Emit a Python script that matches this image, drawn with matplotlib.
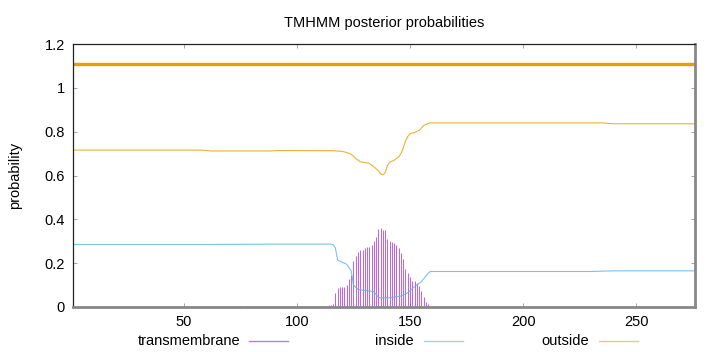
import matplotlib
matplotlib.use("Agg")
import matplotlib.pyplot as plt
from matplotlib.lines import Line2D

plt.rcParams['font.family'] = ['Liberation Sans', 'DejaVu Sans']

# transmembrane posterior (impulses)
tm_pos = [58, 61, 64, 66, 69, 72, 75, 78, 81, 84,
          114, 115, 116, 117, 118, 119, 120, 121, 122, 123, 124, 125, 126, 127,
          128, 129, 130, 131, 132, 133, 134, 135, 136, 137, 138, 139, 140, 141,
          142, 143, 144, 145, 146, 147, 148, 149, 150, 151, 152, 153, 154, 155,
          156, 157, 158,
          236, 239, 242, 245, 248, 251, 254, 257, 260]
tm_val = [0.003, 0.004, 0.004, 0.005, 0.005, 0.005, 0.005, 0.004, 0.004, 0.003,
          0.008, 0.010, 0.012, 0.064, 0.088, 0.090, 0.090, 0.091, 0.100, 0.130,
          0.146, 0.210, 0.233, 0.250, 0.259, 0.260, 0.268, 0.272, 0.275, 0.284,
          0.300, 0.318, 0.354, 0.360, 0.351, 0.351, 0.312, 0.303, 0.297, 0.290,
          0.284, 0.270, 0.245, 0.220, 0.172, 0.157, 0.135, 0.120, 0.120, 0.110,
          0.096, 0.071, 0.044, 0.024, 0.012,
          0.003, 0.004, 0.004, 0.004, 0.004, 0.004, 0.004, 0.003, 0.003]

# inside posterior
in_pos = [1, 60, 90, 115, 116, 117, 118, 120, 122, 124, 125, 127, 131, 134,
          136, 137, 141, 146, 149, 152, 155, 158, 159, 230, 240, 276]
in_val = [0.285, 0.285, 0.287, 0.287, 0.284, 0.270, 0.214, 0.204, 0.195, 0.165,
          0.100, 0.080, 0.074, 0.070, 0.045, 0.042, 0.042, 0.050, 0.065, 0.093,
          0.115, 0.154, 0.162, 0.162, 0.165, 0.165]

# outside posterior
out_pos = [1, 58, 62, 88, 92, 116, 120, 122, 124, 126, 128, 132, 134, 136,
           137, 138, 139, 140, 141, 143, 145, 146, 147, 148, 149, 150, 152,
           154, 156, 158, 159, 235, 240, 276]
out_val = [0.716, 0.716, 0.712, 0.712, 0.714, 0.713, 0.710, 0.705, 0.697,
           0.678, 0.663, 0.655, 0.640, 0.622, 0.607, 0.603, 0.612, 0.645,
           0.660, 0.670, 0.685, 0.700, 0.725, 0.757, 0.778, 0.790, 0.797,
           0.805, 0.828, 0.837, 0.840, 0.840, 0.836, 0.836]

# predicted topology line
topo_start, topo_end, topo_level = 1, 276, 1.11

x_ticks = [50, 100, 150, 200, 250]
y_ticks = [0, 0.2, 0.4, 0.6, 0.8, 1, 1.2]
y_tick_labels = ['0', '0.2', '0.4', '0.6', '0.8', '1', '1.2']

c_tm = '#9400d3'
c_in = '#56b4e9'
c_out = '#e69f00'
c_tm_key = '#c07ae6'
c_in_key = '#9fd2ee'
c_out_key = '#f0c878'

FS = 10.5
fig = plt.figure(figsize=(7.2, 3.52), dpi=100)
ax = fig.add_axes([73/720, 45/352, 622/720, 263/352])

ax.vlines(tm_pos, 0, tm_val, color=c_tm, lw=0.75, alpha=0.6)
ax.plot(in_pos, in_val, color=c_in, lw=0.8, alpha=0.8)
ax.plot(out_pos, out_val, color=c_out, lw=0.8, alpha=0.8)
ax.plot([topo_start, topo_end], [topo_level, topo_level], color=c_out, lw=2.4)

ax.set_xlim(1, 276)
ax.set_ylim(0, 1.2)
ax.set_xticks(x_ticks)
ax.set_yticks(y_ticks)
ax.set_yticklabels(y_tick_labels)
ax.tick_params(direction='in', length=3, width=0.6, color='#999999',
               top=True, right=True, labelsize=FS, pad=6)
for s in ['left', 'top']:
    ax.spines[s].set_color('#222222')
    ax.spines[s].set_linewidth(0.9)
for s in ['bottom', 'right']:
    ax.spines[s].set_color('#888888')
    ax.spines[s].set_linewidth(2)

ax.set_title('TMHMM posterior probabilities', fontsize=FS, pad=12)
ax.set_ylabel('probability', fontsize=FS, labelpad=16)

# legend below the axes, gnuplot style
entries = [('transmembrane', 240, 249, 288, c_tm_key),
           ('inside', 414, 424, 463, c_in_key),
           ('outside', 589, 599, 638, c_out_key)]
ly = 1 - 341/352
for name, tx, x0, x1, c in entries:
    fig.text(tx/720, ly, name, ha='right', va='center', fontsize=FS)
    fig.add_artist(Line2D([x0/720, x1/720], [ly, ly], color=c, lw=1.0,
                          transform=fig.transFigure))

fig.savefig('out.png', dpi=100)
